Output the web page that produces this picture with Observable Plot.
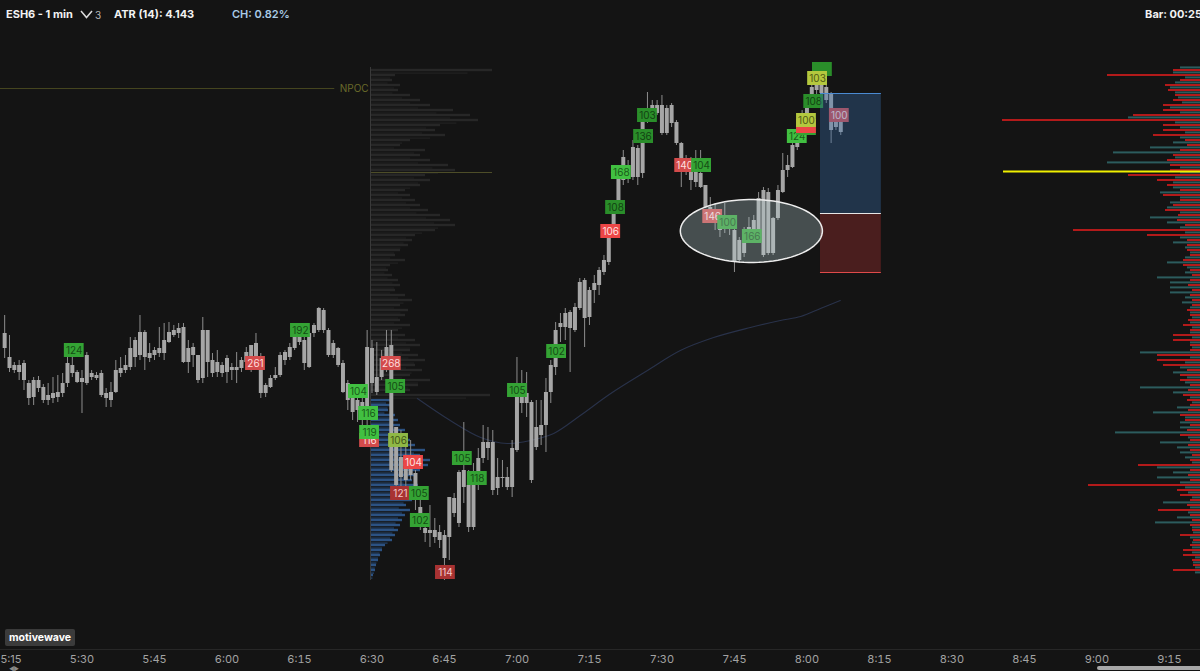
<!DOCTYPE html>
<html><head><meta charset="utf-8">
<script src="https://cdn.jsdelivr.net/npm/d3@7"></script>
<script src="https://cdn.jsdelivr.net/npm/@observablehq/plot@0.6"></script>
<style>
body{margin:0;background:#141414;width:1200px;height:671px;overflow:hidden;font-family:Inter,"DejaVu Sans",sans-serif;}
#hdr{position:relative;height:30px;color:#f2f2f2;font-size:11px;}
#hdr span{position:absolute;top:8px;line-height:13px;white-space:nowrap;}
#chart{position:relative;width:1200px;height:641px;}
#chart svg.layer{position:absolute;left:0;top:0;}
#badge{position:absolute;left:5px;top:599px;height:17px;line-height:17px;padding:0 4px;background:#3b3b3b;color:#fff;font-weight:700;font-size:10.5px;border-radius:2px;}
#scroll{position:absolute;left:1097px;top:636px;width:110px;height:4px;background:#a8a8a8;border-radius:2px;}
#arrows{position:absolute;left:9px;top:636px;color:#8a8a8a;font-size:6px;line-height:6px;letter-spacing:-1px;}
</style></head><body>
<div id="hdr">
 <span style="left:6px;font-weight:700">ESH6 - 1 min</span>
 <svg style="position:absolute;left:80px;top:10px" width="13" height="9"><polyline points="1,1 6.5,7.5 12,1" fill="none" stroke="#dcdcdc" stroke-width="1.5"/></svg>
 <span style="left:95px;color:#b8b8b8;font-size:10px;top:9px">3</span>
 <span style="left:114px;font-weight:700">ATR (14): 4.143</span>
 <span style="left:232px;color:#a9cbe6;font-weight:600">CH: 0.82%</span>
 <span style="right:-2px;font-weight:700">Bar: 00:25</span>
</div>
<div id="chart">
 <div id="badge">motivewave</div>
 <div id="arrows">◀▶</div>
 <div id="scroll"></div>
</div>
<script>
// ---------- DATA ----------
const startMinute = 314; // first bar 5:14, one bar per minute
const open = [6896.7,6894.3,6893.5,6893.5,6893.7,6890.2,6890.3,6892.0,6891.3,6890.0,
6890.2,6890.3,6890.7,6891.7,6893.5,6892.8,6891.8,6894.5,6892.7,6892.5,
6892.7,6890.2,6890.0,6890.8,6892.7,6893.0,6893.3,6894.3,6896.8,6896.8,
6894.2,6894.5,6894.7,6894.7,6895.8,6896.5,6897.2,6897.3,6893.8,6895.3,
6894.5,6892.2,6897.0,6894.0,6892.8,6893.5,6892.8,6893.3,6893.0,6893.2,
6893.8,6894.0,6895.7,6894.3,6890.7,6891.3,6892.2,6892.5,6894.0,6894.3,
6895.2,6896.5,6893.7,6893.3,6896.7,6897.0,6899.0,6897.0,6895.7,6895.2,
6893.7,6891.7,6891.0,6890.0,6889.8,6889.2,6895.2,6892.3,6892.3,6893.3,
6895.5,6887.3,6884.3,6882.0,6883.7,6882.7,6879.3,6877.2,6876.7,6877.0,
6876.8,6876.5,6876.3,6880.2,6877.7,6883.0,6881.5,6877.3,6881.5,6884.2,
6885.8,6885.8,6881.2,6882.3,6882.3,6881.3,6885.0,6890.5,6889.7,6889.8,
6885.3,6886.5,6887.5,6890.8,6893.3,6897.3,6897.3,6898.8,6897.0,6899.2,
6902.0,6898.3,6901.0,6901.5,6902.8,6903.8,6907.3,6909.7,6912.0,6913.5,
6912.3,6915.2,6912.7,6918.3,6918.7,6919.5,6919.5,6916.7,6919.5,6917.8,
6915.7,6914.0,6913.2,6912.8,6912.7,6911.5,6909.3,6908.7,6908.2,6907.3,
6907.8,6907.0,6904.0,6904.7,6906.3,6906.7,6906.7,6911.0,6904.7,6908.2,
6908.2,6910.8,6913.0,6913.3,6915.3,6917.0,6918.3,6919.7,6921.0,6921.8,
6921.3,6920.7,6917.3,6918.2];
const high = [6898.5,6896.5,6893.8,6894.0,6894.0,6892.0,6892.3,6892.4,6891.6,6891.7,
6892.3,6892.5,6892.7,6894.3,6894.3,6893.0,6893.0,6894.8,6893.0,6892.8,
6893.0,6891.2,6891.8,6894.0,6894.3,6894.5,6896.3,6896.3,6898.5,6897.0,
6895.7,6895.3,6897.3,6897.7,6897.8,6897.5,6897.7,6897.7,6896.0,6895.7,
6894.5,6898.3,6897.0,6894.7,6895.0,6893.8,6894.5,6893.7,6894.8,6894.3,
6895.3,6895.5,6896.7,6894.7,6891.7,6892.5,6893.3,6894.8,6895.0,6895.7,
6896.8,6896.7,6896.3,6897.0,6897.7,6899.3,6899.2,6897.2,6896.0,6895.3,
6894.0,6892.0,6891.3,6890.5,6890.2,6897.0,6896.0,6895.8,6895.0,6897.0,
6897.0,6887.3,6887.0,6886.3,6886.0,6883.0,6880.3,6878.0,6879.5,6878.2,
6877.5,6877.0,6880.3,6880.7,6883.0,6887.8,6883.0,6883.7,6885.2,6887.5,
6887.3,6887.0,6884.2,6884.0,6883.3,6886.0,6894.3,6893.0,6892.8,6890.0,
6890.0,6890.0,6892.2,6894.0,6897.8,6898.7,6899.2,6899.0,6899.7,6902.2,
6902.2,6901.3,6902.5,6903.3,6904.5,6907.5,6910.0,6913.0,6915.0,6914.0,
6916.0,6915.5,6919.0,6920.8,6920.0,6920.0,6920.5,6919.5,6919.7,6918.0,
6915.8,6914.5,6914.3,6915.0,6915.0,6911.5,6910.3,6909.7,6909.0,6909.7,
6908.5,6908.0,6906.3,6907.3,6908.3,6908.5,6910.8,6911.3,6911.2,6908.3,
6911.5,6914.7,6914.5,6916.0,6917.5,6919.0,6920.2,6922.0,6923.4,6922.3,
6921.5,6920.8,6919.0,6918.5];
const low = [6894.2,6892.8,6892.7,6892.0,6891.0,6889.5,6889.5,6890.8,6889.7,6889.5,
6889.7,6889.8,6890.3,6891.3,6892.3,6891.7,6888.7,6891.5,6892.0,6892.0,
6890.3,6889.3,6889.3,6890.7,6892.3,6892.7,6893.0,6893.3,6894.0,6893.0,
6893.8,6894.0,6894.3,6894.0,6895.7,6896.3,6896.2,6893.7,6892.7,6893.3,
6891.7,6891.7,6892.3,6892.3,6892.3,6892.3,6891.7,6892.0,6891.7,6892.8,
6893.0,6892.8,6894.3,6890.2,6890.3,6891.2,6892.0,6892.3,6893.5,6894.0,
6895.0,6895.5,6893.0,6893.2,6896.3,6896.8,6896.7,6894.3,6894.2,6893.3,
6890.7,6889.0,6888.0,6887.8,6887.0,6885.3,6890.7,6890.5,6892.0,6892.8,
6882.8,6881.3,6881.0,6881.3,6882.0,6879.0,6877.0,6875.8,6875.3,6875.7,
6875.2,6872.0,6874.0,6878.3,6877.3,6879.7,6876.8,6877.0,6881.0,6883.7,
6884.0,6880.5,6880.5,6881.3,6881.0,6880.3,6884.8,6888.7,6888.3,6881.7,
6885.0,6885.5,6884.8,6889.7,6892.5,6895.8,6896.0,6892.8,6896.8,6899.0,
6895.3,6897.5,6899.7,6900.5,6902.5,6903.5,6907.0,6909.0,6911.5,6911.7,
6912.0,6911.5,6912.2,6917.7,6917.8,6918.5,6916.5,6916.5,6917.3,6915.5,
6911.3,6912.5,6911.0,6911.3,6911.2,6909.2,6907.7,6907.0,6906.3,6906.7,
6906.5,6902.8,6903.7,6904.3,6906.3,6906.2,6906.3,6904.3,6904.5,6904.5,
6908.0,6910.7,6912.3,6913.2,6915.0,6916.8,6918.2,6919.5,6920.5,6919.5,
6919.7,6915.7,6917.0,6916.5];
const close = [6895.2,6893.2,6893.0,6892.8,6892.0,6891.7,6892.0,6891.2,6890.0,6890.5,
6890.7,6890.8,6891.7,6893.7,6892.7,6891.8,6892.2,6891.7,6892.3,6892.2,
6890.5,6890.7,6890.8,6893.0,6893.2,6893.5,6895.2,6896.0,6894.5,6894.3,
6894.7,6895.0,6895.2,6896.0,6896.8,6897.0,6896.7,6893.8,6895.2,6894.5,
6892.0,6897.0,6893.8,6892.7,6893.8,6892.7,6894.2,6893.0,6893.3,6894.0,
6894.8,6895.5,6894.3,6890.7,6891.5,6892.2,6892.5,6894.5,6894.8,6895.3,
6896.3,6895.8,6896.0,6896.7,6897.5,6899.2,6897.0,6894.5,6894.5,6893.5,
6890.8,6890.0,6888.8,6889.0,6888.0,6895.3,6891.7,6890.8,6894.2,6895.3,
6883.0,6881.5,6882.3,6884.3,6882.5,6880.0,6878.0,6876.7,6877.0,6876.3,
6876.0,6874.2,6880.3,6878.7,6882.8,6881.3,6877.3,6881.5,6884.2,6885.8,
6885.2,6881.0,6882.3,6882.2,6881.3,6885.2,6891.0,6889.7,6890.7,6882.0,
6887.3,6887.5,6890.8,6893.5,6897.0,6897.7,6898.7,6897.2,6899.3,6901.8,
6898.2,6901.0,6901.7,6903.0,6904.0,6907.2,6909.3,6912.3,6914.3,6912.3,
6915.3,6912.3,6918.7,6919.0,6919.5,6918.7,6916.7,6919.2,6917.7,6915.7,
6913.7,6913.0,6912.0,6911.8,6911.3,6909.3,6908.0,6907.7,6907.0,6908.0,
6907.2,6903.8,6906.0,6906.3,6907.3,6908.0,6910.2,6904.5,6910.8,6904.7,
6911.0,6913.0,6913.5,6915.5,6917.0,6918.5,6919.7,6921.3,6922.5,6920.7,
6920.0,6917.0,6918.7,6916.8];

// volume labels (minute of day, price, text, kind)
const lblMin = [328.4,365.9,375.2,387.2,389.3,389.5,389.5,394.0,394.9,395.5,398.6,395.9,399.8,400.0,405.2,408.7,411.8,420.1,428.2,
 439.4,440.4,441.6,446.2,447.0,454.7,458.2,460.5,463.6,468.7,478.0,479.9,479.9,479.9,481.4,483.2,482.2,486.7];
const lblPrice = [6895.0,6893.7,6897.0,6890.9,6888.7,6886.0,6886.8,6893.7,6891.4,6886.0,6883.8,6880.7,6880.7,6878.0,6872.8,6884.2,6882.2,6891.0,6894.9,
 6906.9,6909.3,6912.8,6916.4,6918.5,6913.5,6913.5,6908.4,6907.8,6906.4,6916.4,6917.2,6917.4,6918.0,6919.9,6923.1,6922.2,6918.5];
const lblText = ["124","261","192","104","116","116","119","268","105","106","104","121","105","102","114","105","118","105","102",
 "106","108","168","136","103","140","104","146","100","166","124","112","","100","108","","103","100"];
const lblKind = ["g","r","g","bg","bg","r","bg","r","g","lime","br","dr","g","g","dr","g","g","g","g",
 "br","dg","bg","dg","dg","r","g","r","g","g","bg","g","br","yg","dg","dg","yg","r"];

// session volume profile (rows every 0.5 pt from top)
const sessTop = 6923.0, sessStep = 0.5, sessSplit = 6890.2, sessPOC = 6912.8;
const sessVol = [122,25,22,30,28,40,50,60,83,100,108,70,65,75,40,30,55,50,60,78,85,55,60,50,35,40,45,50,58,70,
80,85,65,45,42,38,30,25,35,20,18,22,28,30,25,35,42,30,38,35,30,40,28,35,45,50,40,48,55,45,52,40,60,48,40,120,
20,22,18,25,28,30,35,32,40,45,55,50,60,58,50,45,42,48,40,38,42,36,40,35,32,30,28,25,22,15,12,10,8,6,5,3];

// right-hand volume profile (ask = red, bid = teal)
const rightTop = 6923.5, rightStep = 0.5, rightPOC = 6912.9;
const askVol = [0,27,93,20,35,32,25,27,37,37,67,198,37,37,47,15,13,20,27,33,30,30,72,43,33,20,37,20,27,35,22,23,15,127,53,13,13,13,10,17,
17,10,8,10,12,8,10,8,8,13,10,12,17,10,27,27,10,10,43,43,37,13,20,20,10,12,17,13,10,12,20,15,10,13,20,10,12,10,8,10,62,10,12,10,112,23,20,10,13,42,
10,8,10,8,20,7,10,17,17,8,7,27];
const bidVol = [20,27,15,25,30,25,22,18,30,20,72,25,20,15,20,27,50,87,25,93,20,20,25,27,27,40,20,30,33,20,50,33,20,15,20,27,15,10,15,33,
13,15,43,30,30,30,15,18,10,10,8,10,8,10,8,10,8,60,10,15,20,27,13,15,60,27,10,8,23,47,15,20,20,85,12,40,23,20,15,8,43,27,43,20,15,12,8,37,10,12,
23,45,8,7,10,8,8,8,5,7,5,5];

// VWAP line
const vwapMin = [399.4,406.2,412.5,418.0,422.8,427.6,433.1,439.4,447.0,453.8,460.7,468.3,474.5,478.7,482.8,486.9];
const vwapPrice = [6890.2,6888.0,6886.3,6885.7,6886.0,6886.7,6888.5,6890.7,6893.0,6895.0,6896.3,6897.3,6898.0,6898.4,6899.2,6900.0];

// levels / annotations
const npocPrice = 6921.2;
const trade = {start: 482.8, end: 495.4, entry: 6908.7, target: 6920.7, stop: 6902.8};
const zone = {t: 468.5, p: 6906.95, halfMin: 14.7, halfPts: 3.15};
const tickLabels = ["5:15","5:30","5:45","6:00","6:15","6:30","6:45","7:00","7:15","7:30","7:45","8:00","8:15","8:30","8:45","9:00","9:15"];

// ---------- BUILD ----------
const candles = open.map((o,i)=>({t:startMinute+i, o, h:high[i], l:low[i], c:close[i]}));
const labels = lblMin.map((t,i)=>({t, p:lblPrice[i], s:lblText[i], k:lblKind[i]}));
const sessRows = sessVol.map((v,k)=>({p:sessTop-k*sessStep, v}));
const rightRows = askVol.map((a,k)=>({p:rightTop-k*rightStep, a, b:bidVol[k]}));
const vwap = vwapMin.map((t,i)=>({t, p:vwapPrice[i]}));
const tickVals = tickLabels.map(s=>{const [h,m]=s.split(":").map(Number);return h*60+m;});
const tickMap = new Map(tickVals.map((v,i)=>[v,tickLabels[i]]));
const ellipse = d3.range(0,361,4).map(a=>({t:zone.t+zone.halfMin*Math.cos(a*Math.PI/180), p:zone.p+zone.halfPts*Math.sin(a*Math.PI/180)}));

const kindFill = {g:"#34a334", bg:"#41c041", dg:"#2a8e2a", lime:"#8fb845", yg:"#b4c83e", r:"#d34b4b", br:"#ec4646", dr:"#a83232"};
const kindText = {g:"#154d15", bg:"#195a19", dg:"#124212", lime:"#3f5418", yg:"#4f5a14", r:"#ffdede", br:"#ffe2e2", dr:"#f3c8c8"};

const W=1200, H=641, X0=313.14, X1=561.43;
const yDomain=[6865.1, 6927];
const base = {width:W, height:H, marginTop:0, marginBottom:22, marginLeft:0, marginRight:0,
  style:{background:"transparent", fontFamily:"Inter, sans-serif", fontSize:"11px", color:"#a3a3a3", overflow:"visible"},
  y:{domain:yDomain, axis:null}};

const chart = document.getElementById("chart");
function add(svg){svg.classList.add("layer"); chart.insertBefore(svg, document.getElementById("badge"));}

// session profile
add(Plot.plot({...base, x:{domain:[0,120], range:[370,490], axis:null}, marks:[
  Plot.rect(sessRows, {x1:0, x2:"v", y1:d=>d.p-0.12, y2:d=>d.p+0.12, fill:d=>d.p<sessSplit?"#2c5282":"#272727"}),
  Plot.rect(sessRows, {x1:0, x2:d=>d.v*0.8, y1:d=>d.p-0.37, y2:d=>d.p-0.25, fill:d=>d.p<sessSplit?"#24446b":"#212121"}),
  Plot.ruleY([sessPOC], {x1:0, x2:122, stroke:"#4d4d28", strokeWidth:1.2})
]}));

// right profile
add(Plot.plot({...base, x:{domain:[0,200], range:[1200,1000], axis:null}, marks:[
  Plot.rect(rightRows, {x1:0, x2:"b", y1:d=>d.p-0.34, y2:d=>d.p-0.14, fill:"#2c5c5e"}),
  Plot.rect(rightRows, {x1:0, x2:"a", y1:d=>d.p-0.1, y2:d=>d.p+0.1, fill:"#b31a1a"}),
  Plot.ruleY([rightPOC], {x1:0, x2:197, stroke:"#f0f000", strokeWidth:2})
]}));

// main
const labelMarks = labels.flatMap(d=>[
  Plot.rect([d], {x1:d.t-2.05, x2:d.t+2.05, y1:d.p-0.7, y2:d.p+0.7, fill:kindFill[d.k]}),
  Plot.text([d], {x:"t", y:"p", text:"s", fill:kindText[d.k], fontSize:10})
]);
add(Plot.plot({...base, x:{domain:[X0,X1], axis:null}, marks:[
  Plot.ruleY([yDomain[0]], {stroke:"#272727"}),
  Plot.axisX(tickVals.slice(1), {tickSize:0, tickPadding:6, tickFormat:d=>tickMap.get(d), fill:"#a3a3a3", fontSize:11, label:null}),
  Plot.text([tickLabels[0]], {x:X0, y:yDomain[0], textAnchor:"start", lineAnchor:"top", dy:6, dx:0, fill:"#a3a3a3", fontSize:11}),
  Plot.ruleY([npocPrice], {x1:X0, x2:382.3, stroke:"#45451f"}),
  Plot.text(["NPOC"], {x:389.3, y:npocPrice, textAnchor:"end", fill:"#6a6a2a", fontSize:10}),
  Plot.ruleX([389.7], {y1:6872, y2:6923.3, stroke:"#3a3a3a"}),
  Plot.line(vwap, {x:"t", y:"p", stroke:"#29324a", strokeWidth:1.1, curve:"catmull-rom"}),
  Plot.ruleX(candles, {x:"t", y1:"l", y2:"h", stroke:"#8e8e8e", strokeWidth:1}),
  Plot.ruleX(candles, {x:"t", y1:"o", y2:"c", stroke:"#a6a6a6", strokeWidth:4}),
  ...labelMarks,
  Plot.rect([trade], {x1:"start", x2:"end", y1:"entry", y2:"target", fill:"#3a70b0", fillOpacity:0.35}),
  Plot.rect([trade], {x1:"start", x2:"end", y1:"stop", y2:"entry", fill:"#b03030", fillOpacity:0.35}),
  Plot.ruleY([trade], {x1:"start", x2:"end", y:"target", stroke:"#4a8ad2"}),
  Plot.ruleY([trade], {x1:"start", x2:"end", y:"stop", stroke:"#e04a4a"}),
  Plot.ruleY([trade], {x1:"start", x2:"end", y:"entry", stroke:"#e6e6e6"}),
  Plot.line(ellipse, {x:"t", y:"p", curve:"linear-closed", fill:"#bcd6da", fillOpacity:0.3, stroke:"#ededed", strokeWidth:1.5})
]}));
</script>
</body></html>
